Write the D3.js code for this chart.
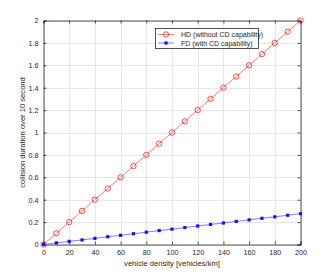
<!DOCTYPE html>
<html><head><meta charset="utf-8">
<script src="https://cdn.jsdelivr.net/npm/d3@7"></script>
<style>body{margin:0;background:#fff}svg{display:block}text{font-family:"Liberation Sans",Arial,sans-serif}</style>
</head><body><svg id="c" width="332" height="275"></svg>
<script>
const density = [0,10,20,30,40,50,60,70,80,90,100,110,120,130,140,150,160,170,180,190,200];
const hdValues = [0,0.1,0.2,0.3,0.4,0.5,0.6,0.7,0.8,0.9,1.0,1.1,1.2,1.3,1.4,1.5,1.6,1.7,1.8,1.9,2.0];
const fdValues = [0,0.014,0.028,0.041,0.055,0.069,0.082,0.096,0.110,0.124,0.137,0.151,0.165,0.179,0.192,0.206,0.220,0.234,0.247,0.261,0.275];
const xTicks = [0,20,40,60,80,100,120,140,160,180,200];
const yTicks = [0,0.2,0.4,0.6,0.8,1,1.2,1.4,1.6,1.8,2];
const seriesNames = ["HD (without CD capability)","FD (with CD capability)"];
const xLabel = "vehicle density [vehicles/km]";
const yLabel = "collision duration over 10 second";

const svg = d3.select("#c");
const L=43.5, R=300.5, T=20.5, B=244.5;
const x = d3.scaleLinear().domain([0,200]).range([L,R]);
const y = d3.scaleLinear().domain([0,2]).range([B,T]);
const tc = "#262626";

// grid
const g = svg.append("g");
g.selectAll(".gx").data(xTicks).enter().append("line")
 .attr("x1",d=>Math.round(x(d))+0.5).attr("x2",d=>Math.round(x(d))+0.5).attr("y1",T).attr("y2",B)
 .attr("stroke","#e6e6e6").attr("stroke-width",1);
g.selectAll(".gy").data(yTicks).enter().append("line")
 .attr("y1",d=>Math.round(y(d))+0.5).attr("y2",d=>Math.round(y(d))+0.5).attr("x1",L).attr("x2",R)
 .attr("stroke","#e6e6e6").attr("stroke-width",1);

// axes
const xa = svg.append("g").attr("transform",`translate(0,${B})`)
 .call(d3.axisBottom(x).tickValues(xTicks).tickSize(-3).tickPadding(5).tickFormat(d3.format("d")));
const xa2 = svg.append("g").attr("transform",`translate(0,${T})`)
 .call(d3.axisTop(x).tickValues(xTicks).tickSize(-3).tickFormat(""));
const ya = svg.append("g").attr("transform",`translate(${L},0)`)
 .call(d3.axisLeft(y).tickValues(yTicks).tickSize(-3).tickPadding(5).tickFormat(d=>d3.format("~g")(d)));
const ya2 = svg.append("g").attr("transform",`translate(${R},0)`)
 .call(d3.axisRight(y).tickValues(yTicks).tickSize(-3).tickFormat(""));
[xa,xa2,ya,ya2].forEach(a=>{
  a.selectAll("path").attr("stroke",tc).attr("stroke-width",0.8);
  a.selectAll("line").attr("stroke",tc).attr("stroke-width",0.8);
  a.selectAll("text").attr("fill",tc).style("font-size","7.2px");
});

// lines
const line = d3.line().x((d,i)=>x(density[i])).y(d=>y(d));
svg.append("path").datum(hdValues).attr("d",line).attr("fill","none").attr("stroke","#ff5c5c").attr("stroke-width",0.8);
svg.append("path").datum(fdValues).attr("d",line).attr("fill","none").attr("stroke","#5c5cff").attr("stroke-width",0.8);
svg.selectAll(".hd").data(hdValues).enter().append("circle")
 .attr("cx",(d,i)=>x(density[i])).attr("cy",d=>y(d)).attr("r",2.7)
 .attr("fill","none").attr("stroke","#ff2020").attr("stroke-width",0.8);
svg.selectAll(".fd").data(fdValues).enter().append("rect")
 .attr("x",(d,i)=>x(density[i])-1.6).attr("y",d=>y(d)-1.6).attr("width",3.2).attr("height",3.2)
 .attr("fill","#1010ff");

// labels
svg.append("text").attr("x",(L+R)/2).attr("y",266).attr("text-anchor","middle")
 .attr("fill",tc).style("font-size","7.6px").text(xLabel);
svg.append("text").attr("transform",`translate(24.5,${(T+B)/2}) rotate(-90)`).attr("text-anchor","middle")
 .attr("fill",tc).style("font-size","7.6px").text(yLabel);

// legend
const lg = svg.append("g");
lg.append("rect").attr("x",155.5).attr("y",28.5).attr("width",103).attr("height",20)
 .attr("fill","#fff").attr("stroke","#262626").attr("stroke-width",0.8);
const rows=[{c:"#ff5c5c",m:"circle",y:34.5},{c:"#5c5cff",m:"rect",y:43}];
rows.forEach((r,i)=>{
  lg.append("line").attr("x1",158).attr("x2",174).attr("y1",r.y).attr("y2",r.y).attr("stroke",r.c).attr("stroke-width",0.8);
  if(r.m==="circle") lg.append("circle").attr("cx",166).attr("cy",r.y).attr("r",2.7).attr("fill","none").attr("stroke","#ff2020").attr("stroke-width",0.8);
  else lg.append("rect").attr("x",164.4).attr("y",r.y-1.6).attr("width",3.2).attr("height",3.2).attr("fill","#1010ff");
  lg.append("text").attr("x",181).attr("y",r.y+2.5).attr("fill",tc).style("font-size","7px").text(seriesNames[i]);
});
</script></body></html>
